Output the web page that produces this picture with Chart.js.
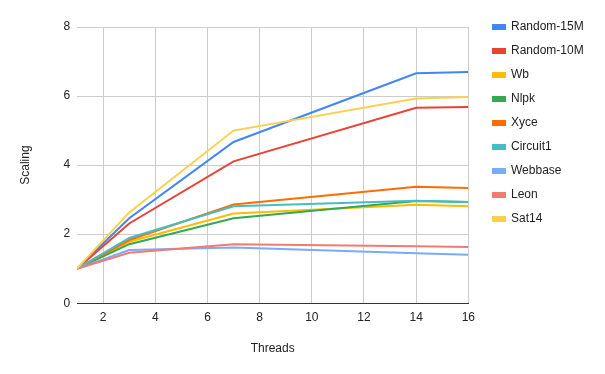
<!DOCTYPE html>
<html>
<head>
<meta charset="utf-8">
<script src="https://cdn.jsdelivr.net/npm/chart.js@4/dist/chart.umd.min.js"></script>
<style>
  html, body { margin: 0; padding: 0; background: #fff; }
  #wrap { width: 605px; height: 374px; }
</style>
</head>
<body>
<div id="wrap"><canvas id="scaling"></canvas></div>
<script>
// thread counts measured
const threads = [1, 3, 7, 14, 16];
const xTicks = [2, 4, 6, 8, 10, 12, 14, 16];

const random15M = [1, 2.46, 4.67, 6.66, 6.70];
const random10M = [1, 2.31, 4.11, 5.66, 5.68];
const wb = [1, 1.78, 2.60, 2.85, 2.81];
const nlpk = [1, 1.71, 2.46, 2.96, 2.93];
const xyce = [1, 1.83, 2.86, 3.37, 3.34];
const circuit1 = [1, 1.89, 2.81, 2.97, 2.93];
const webbase = [1, 1.54, 1.61, 1.45, 1.40];
const leon = [1, 1.46, 1.71, 1.65, 1.63];
const sat14 = [1, 2.63, 5.00, 5.93, 5.97];

const seriesNames = ['Random-15M', 'Random-10M', 'Wb', 'Nlpk', 'Xyce', 'Circuit1', 'Webbase', 'Leon', 'Sat14'];
const seriesValues = [random15M, random10M, wb, nlpk, xyce, circuit1, webbase, leon, sat14];
const seriesColors = ['#4285F4', '#EA4335', '#FBBC04', '#34A853', '#FF6D01', '#46BDC6', '#7BAAF7', '#F07B72', '#FCD04F'];

const font = 'Arial, "Liberation Sans", sans-serif';
Chart.defaults.font.family = font;
Chart.defaults.font.size = 12;
Chart.defaults.color = '#222';

// later series sit on top, like the original
const datasets = seriesNames.map((name, i) => ({
  label: name,
  data: threads.map((t, j) => ({ x: t, y: seriesValues[i][j] })),
  borderColor: seriesColors[i],
  backgroundColor: seriesColors[i],
  borderWidth: 2,
  pointRadius: 0,
  tension: 0,
  order: -i
}));

// nudge the legend block so it starts level with the top gridline
const legendNudge = {
  id: 'legendNudge',
  afterLayout(chart) {
    const lg = chart.legend;
    if (!lg) return;
    const w = 120, h = lg.bottom - lg.top;
    lg.left = 481;
    lg.right = lg.left + w;
    lg.width = w;
    lg.top = 9;
    lg.bottom = lg.top + h;
  }
};

new Chart(document.getElementById('scaling').getContext('2d'), {
  type: 'line',
  data: { datasets: datasets },
  plugins: [legendNudge],
  options: {
    responsive: true,
    maintainAspectRatio: false,
    animation: false,
    layout: { padding: { top: 27, right: 24, bottom: 14, left: 14 } },
    plugins: {
      tooltip: { enabled: false },
      legend: {
        position: 'right',
        align: 'start',
        labels: {
          boxWidth: 12,
          boxHeight: 4,
          padding: 12,
          color: '#222',
          sort: (a, b) => a.datasetIndex - b.datasetIndex
        }
      }
    },
    scales: {
      x: {
        type: 'linear',
        min: 1,
        max: 16,
        afterBuildTicks: axis => { axis.ticks = xTicks.map(v => ({ value: v })); },
        grid: { color: '#cccccc', drawTicks: false },
        border: { display: true, color: '#333333', width: 1 },
        ticks: { padding: 7, color: '#222' },
        title: { display: true, text: 'Threads', color: '#222', padding: { top: 10 } }
      },
      y: {
        min: 0,
        max: 8,
        ticks: { stepSize: 2, padding: 7, color: '#222' },
        grid: { color: '#cccccc', drawTicks: false },
        border: { display: false },
        title: { display: true, text: 'Scaling', color: '#222', padding: { bottom: 24 } }
      }
    }
  }
});
</script>
</body>
</html>
